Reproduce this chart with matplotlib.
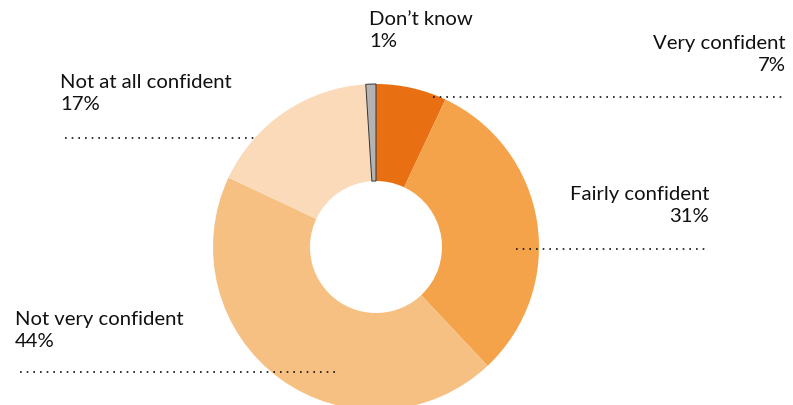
import matplotlib.pyplot as plt

# Confidence survey donut
labels = ["Very confident", "Fairly confident", "Not very confident", "Not at all confident", "Don\u2019t know"]
values = [7, 31, 44, 17, 1]
colors = ["#E97012", "#F5A34A", "#F7C083", "#FADAB9", "#B3B3B3"]

W, H = 793, 406
plt.rcParams['font.family'] = ['Lato', 'DejaVu Sans']

fig = plt.figure(figsize=(W / 100, H / 100), dpi=100)
ax = fig.add_axes([0, 0, 1, 1])

def py(y):
    # pixel row from top -> data y
    return H - y

wedges, _ = ax.pie(values, colors=colors, center=(376, py(248)), radius=163,
                   startangle=90, counterclock=False,
                   wedgeprops=dict(width=97, linewidth=0), frame=True)
wedges[-1].set_edgecolor("#333333")
wedges[-1].set_linewidth(0.7)
ax.set_xlim(0, W)
ax.set_ylim(0, H)
ax.set_aspect('equal')
ax.axis('off')

# label text: (x, top y, alignment), then leader line (x0, x1, y)
label_pos = [
    (786, 35, 'right', 433, 785, 98),
    (709, 186, 'right', 516, 706, 250),
    (15, 311, 'left', 20, 340, 373),
    (60, 74, 'left', 65, 255, 139),
    (369, 11, 'left', None, None, None),
]

for lab, val, (x, y, ha, x0, x1, ly) in zip(labels, values, label_pos):
    ax.text(x, py(y), f"{lab}\n{val}%", ha=ha, va='top', fontsize=14.6,
            linespacing=1.35, color="#111111")
    if x0 is not None:
        ax.plot([x0, x1], [py(ly), py(ly)], color="#111111", lw=1.2,
                linestyle=(0, (1, 3)), solid_capstyle='butt', dash_capstyle='butt')

fig.savefig("out.png", dpi=100)
